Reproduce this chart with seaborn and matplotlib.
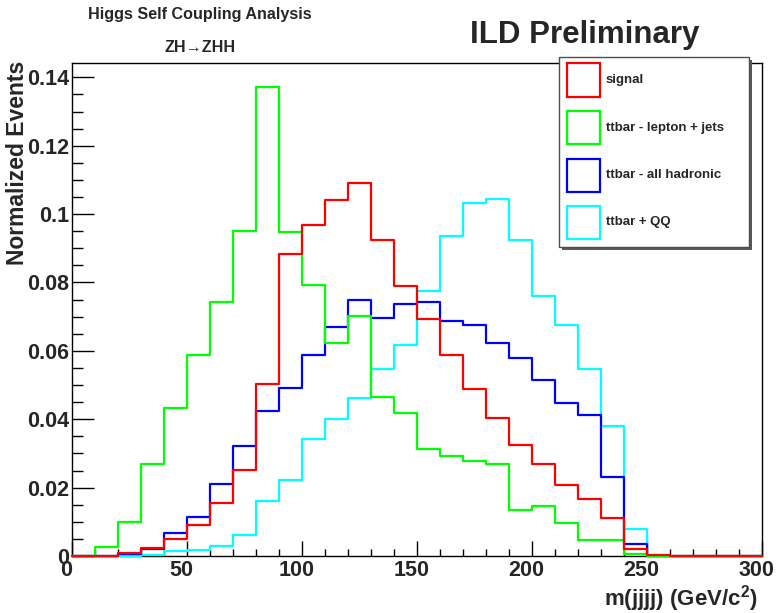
import numpy as np
import pandas as pd
import matplotlib
matplotlib.use("Agg")
import matplotlib.pyplot as plt
import matplotlib.transforms as mtransforms
import seaborn as sns
from matplotlib.patches import Rectangle
from matplotlib.ticker import MultipleLocator, FixedLocator, FixedFormatter

# ---------------- data ----------------
bin_edges = list(range(0, 310, 10))
series_names = ["signal", "ttbar - lepton + jets", "ttbar - all hadronic", "ttbar + QQ"]

signal = [0, 0, 0.0010, 0.0022, 0.0049, 0.0091, 0.0156, 0.0251, 0.0503, 0.0882,
          0.0969, 0.1042, 0.1091, 0.0925, 0.0789, 0.0693, 0.0589, 0.0488, 0.0404, 0.0326,
          0.0268, 0.0209, 0.0167, 0.0112, 0.0020, 0.0003, 0, 0, 0, 0]
lepton_jets = [0, 0.0025, 0.0100, 0.0268, 0.0433, 0.0587, 0.0743, 0.0952, 0.1373, 0.0947,
               0.0793, 0.0624, 0.0701, 0.0465, 0.0418, 0.0314, 0.0293, 0.0279, 0.0268, 0.0136,
               0.0147, 0.0097, 0.0047, 0.0047, 0.0005, 0, 0, 0, 0, 0]
all_hadronic = [0, 0, 0.0005, 0.0020, 0.0066, 0.0113, 0.0212, 0.0322, 0.0423, 0.0490,
                0.0587, 0.0670, 0.0748, 0.0697, 0.0738, 0.0743, 0.0686, 0.0677, 0.0623, 0.0580,
                0.0514, 0.0448, 0.0412, 0.0232, 0.0035, 0, 0, 0, 0, 0]
ttbar_qq = [0, 0, 0.0001, 0.0004, 0.0015, 0.0019, 0.0029, 0.0061, 0.0161, 0.0222,
            0.0343, 0.0400, 0.0461, 0.0548, 0.0616, 0.0774, 0.0935, 0.1033, 0.1045, 0.0925,
            0.0760, 0.0677, 0.0548, 0.0379, 0.0078, 0, 0, 0, 0, 0]

colors = ["#ff0000", "#00ff00", "#0000ff", "#00ffff"]
x_ticks = [0, 50, 100, 150, 200, 250, 300]
x_tick_labels = ["0", "50", "100", "150", "200", "250", "300"]
y_ticks = [0, 0.02, 0.04, 0.06, 0.08, 0.10, 0.12, 0.14]
y_tick_labels = ["0", "0.02", "0.04", "0.06", "0.08", "0.1", "0.12", "0.14"]

# ---------------- build table ----------------
centers = [(a + b) / 2 for a, b in zip(bin_edges[:-1], bin_edges[1:])]
rows = []
for name, vals in zip(series_names, [signal, lepton_jets, all_hadronic, ttbar_qq]):
    for c, v in zip(centers, vals):
        rows.append({"mass": c, "weight": v, "sample": name})
df = pd.DataFrame(rows)

sns.set_style("white")
plt.rcParams['font.family'] = ['Liberation Sans', 'DejaVu Sans']
plt.rcParams['font.weight'] = 'bold'
plt.rcParams['mathtext.fontset'] = 'custom'
plt.rcParams['mathtext.rm'] = 'Liberation Sans:bold'
plt.rcParams['mathtext.bf'] = 'Liberation Sans:bold'
plt.rcParams['mathtext.default'] = 'bf'

W, H = 778, 613
fig = plt.figure(figsize=(W / 100, H / 100), dpi=100)
ax = fig.add_axes([72 / W, 1 - 556 / H, 690 / W, 493 / H])

color_map = dict(zip(series_names, colors))
draw_order = ["ttbar + QQ", "ttbar - all hadronic", "ttbar - lepton + jets", "signal"]
for i, name in enumerate(draw_order):
    sns.histplot(data=df[df["sample"] == name], x="mass", weights="weight",
                 bins=bin_edges, element="step", fill=False,
                 color=color_map[name], linewidth=1.6, ax=ax,
                 zorder=3 + i, clip_on=False)

ax.set_xlim(0, 300)
ax.set_ylim(0, 0.1442)
ax.set_xlabel("")
ax.set_ylabel("")

ax.xaxis.set_major_locator(FixedLocator(x_ticks))
ax.xaxis.set_major_formatter(FixedFormatter(x_tick_labels))
ax.xaxis.set_minor_locator(MultipleLocator(10))
ax.yaxis.set_major_locator(FixedLocator(y_ticks))
ax.yaxis.set_major_formatter(FixedFormatter(y_tick_labels))
ax.yaxis.set_minor_locator(MultipleLocator(0.005))

ax.tick_params(axis="both", which="both", direction="in", top=False, right=False,
               bottom=True, left=True, color="black", width=1)
ax.tick_params(axis="y", which="major", length=15.8, pad=2, labelsize=15.5)
ax.tick_params(axis="y", which="minor", length=8)
ax.tick_params(axis="x", which="major", length=10.8, pad=3, labelsize=15.5)
ax.tick_params(axis="x", which="minor", length=5.4)
shift = mtransforms.ScaledTranslation(-4 / 72, 0, fig.dpi_scale_trans)
for lab in ax.get_xticklabels():
    lab.set_fontweight("bold")
    lab.set_transform(lab.get_transform() + shift)
for lab in ax.get_yticklabels():
    lab.set_fontweight("bold")

for s in ax.spines.values():
    s.set_visible(True)
    s.set_color("black")
    s.set_linewidth(1)

# axis titles
fig.text(758 / W, 1 - 605 / H, r"m(jjjj) (GeV/c$^{2}$)", ha="right", va="baseline",
         fontsize=16, fontweight="bold")
fig.text(18 / W, 1 - 61 / H, "Normalized Events", rotation=90, ha="center", va="top",
         fontsize=16.5, fontweight="bold")

# header texts
fig.text(200 / W, 1 - 14 / H, "Higgs Self Coupling Analysis", ha="center", va="center",
         fontsize=11.6, fontweight="bold")
fig.text(200 / W, 1 - 47 / H, "ZH\u2192ZHH", ha="center", va="center",
         fontsize=11.6, fontweight="bold")
fig.text(585 / W, 1 - 35 / H, "ILD Preliminary", ha="center", va="center",
         fontsize=22.5, fontweight="bold")

# legend (ROOT-style box with shadow)
def fx(px):
    return px / W

def fy(py):
    return 1 - py / H

box_l, box_t, box_r, box_b = 559, 57, 749, 247
fig.patches.append(Rectangle((fx(box_l + 3), fy(box_b + 3)), fx(box_r - box_l), (box_b - box_t) / H,
                             transform=fig.transFigure, facecolor="0.35", edgecolor="none", zorder=10))
fig.patches.append(Rectangle((fx(box_l), fy(box_b)), fx(box_r - box_l), (box_b - box_t) / H,
                             transform=fig.transFigure, facecolor="white", edgecolor="0.3",
                             linewidth=1, zorder=11))
row_centers = [80, 127.5, 175, 222.5]
for name, c, yc in zip(series_names, colors, row_centers):
    fig.patches.append(Rectangle((fx(567), fy(yc + 16.5)), fx(33), 33 / H,
                                 transform=fig.transFigure, facecolor="white", edgecolor=c,
                                 linewidth=1.6, zorder=12))
    fig.text(fx(606), fy(yc), name, ha="left", va="center", fontsize=9.5,
             fontweight="bold", zorder=13)

fig.savefig("out.png", dpi=100)
